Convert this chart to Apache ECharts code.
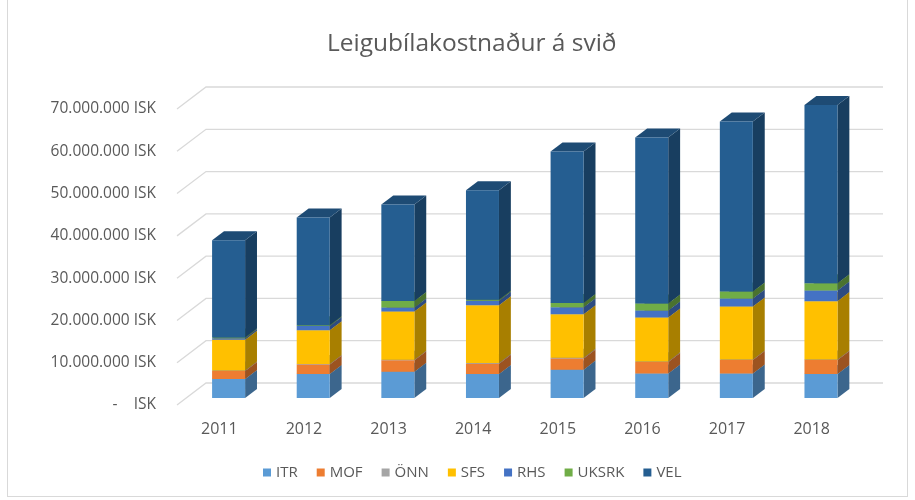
<!DOCTYPE html>
<html>
<head>
<meta charset="utf-8">
<script src="https://cdn.jsdelivr.net/npm/echarts@6/dist/echarts.min.js"></script>
<style>
  html, body { margin: 0; padding: 0; background: #fff; }
  #chart { position: absolute; left: 7px; top: 0; width: 901px; height: 497px; border: 1px solid #d9d9d9; border-top: none; box-sizing: border-box; }
</style>
</head>
<body>
<div id="chart"></div>
<script>
// ártal
const years = ['2011', '2012', '2013', '2014', '2015', '2016', '2017', '2018']
// kostnaður eftir sviðum (ISK)
const itr   = [4500000, 5650000, 6200000, 5650000, 6700000, 5800000, 5800000, 5650000]
const mof   = [1900000, 2250000, 2700000, 2450000, 2650000, 2700000, 3150000, 3300000]
const onn   = [100000, 150000, 150000, 150000, 150000, 150000, 150000, 150000]
const sfs   = [7250000, 7950000, 11400000, 13650000, 10300000, 10350000, 12500000, 13800000]
const rhs   = [400000, 1000000, 950000, 1100000, 1650000, 1700000, 1900000, 2500000]
const uksrk = [150000, 200000, 1550000, 200000, 1000000, 1650000, 1700000, 1700000]
const vel   = [23000000, 25450000, 22800000, 25900000, 35850000, 39250000, 40200000, 42200000]
const yTicks = [0, 10000000, 20000000, 30000000, 40000000, 50000000, 60000000, 70000000]

const seriesDefs = [
  { name: 'ITR', data: itr, color: '#5B9BD5' },
  { name: 'MOF', data: mof, color: '#ED7D31' },
  { name: 'ÖNN', data: onn, color: '#A5A5A5' },
  { name: 'SFS', data: sfs, color: '#FFC000' },
  { name: 'RHS', data: rhs, color: '#4472C4' },
  { name: 'UKSRK', data: uksrk, color: '#70AD47' },
  { name: 'VEL', data: vel, color: '#255E91' }
]

// 3D dýpt
const DX = 29, DY = -22
const F1 = 0.32, F2 = 0.73

const shade = (hex, f) => {
  const n = parseInt(hex.slice(1), 16)
  const r = Math.round(((n >> 16) & 255) * f)
  const g = Math.round(((n >> 8) & 255) * f)
  const b = Math.round((n & 255) * f)
  return 'rgb(' + r + ',' + g + ',' + b + ')'
}

const fmt = v => v === 0 ? '-    ISK' : String(v).replace(/\B(?=(\d{3})+(?!\d))/g, '.') + ' ISK'

const chart = echarts.init(document.getElementById('chart'))

const wallSeries = {
  type: 'custom',
  name: 'wall',
  silent: true,
  z: 1,
  data: yTicks.map(v => [0, v]),
  renderItem: (params, api) => {
    const y = api.coord([0, api.value(1)])[1]
    const x0 = params.coordSys.x
    const xr = x0 + params.coordSys.width
    return {
      type: 'polyline',
      shape: { points: [[x0, y], [x0 + DX, y + DY], [xr + DX, y + DY]] },
      style: { stroke: '#d9d9d9', lineWidth: 1.3, fill: null }
    }
  }
}

const cum = years.map(() => 0)
const barSeries = seriesDefs.map((s, k) => {
  const data = s.data.map((v, i) => {
    const lo = cum[i]
    cum[i] += v
    return [i, lo, cum[i]]
  })
  return {
    type: 'custom',
    name: s.name,
    z: 2 + k,
    itemStyle: { color: s.color },
    data: data,
    renderItem: (params, api) => {
      const c = api.value(0)
      const p0 = api.coord([c, api.value(1)])
      const p1 = api.coord([c, api.value(2)])
      const bw = api.size([1, 0])[0] * 0.39
      const x1 = p0[0] - bw / 2 + F1 * DX
      const x2 = x1 + bw
      const yb = p0[1] + F1 * DY
      const yt = p1[1] + F1 * DY
      const ddx = (F2 - F1) * DX
      const ddy = (F2 - F1) * DY
      return {
        type: 'group',
        children: [
          {
            type: 'polygon',
            shape: { points: [[x2, yb], [x2 + ddx, yb + ddy], [x2 + ddx, yt + ddy], [x2, yt]] },
            style: { fill: shade(s.color, 0.66) }
          },
          {
            type: 'polygon',
            shape: { points: [[x1, yt], [x2, yt], [x2 + ddx, yt + ddy], [x1 + ddx, yt + ddy]] },
            style: { fill: shade(s.color, 0.8) }
          },
          {
            type: 'rect',
            shape: { x: x1, y: yt, width: bw, height: yb - yt },
            style: { fill: s.color }
          }
        ]
      }
    }
  }
})

chart.setOption({
  animation: false,
  title: {
    text: 'Leigubílakostnaður á svið',
    left: 314,
    top: 27,
    textStyle: { fontFamily: 'Open Sans', fontSize: 24.5, fontWeight: 'normal', color: '#595959' }
  },
  legend: {
    bottom: 11,
    left: 250,
    icon: 'rect',
    itemWidth: 8,
    itemHeight: 8,
    itemGap: 19,
    data: seriesDefs.map(s => s.name),
    textStyle: { fontFamily: 'Open Sans', fontSize: 15, color: '#595959' }
  },
  grid: { left: 169, right: 53, top: 109, bottom: 91 },
  xAxis: {
    type: 'category',
    data: years,
    axisLine: { show: false },
    axisTick: { show: false },
    axisLabel: { margin: 16, fontFamily: 'Open Sans', fontSize: 16, color: '#595959' }
  },
  yAxis: {
    type: 'value',
    min: 0,
    max: 70000000,
    interval: 10000000,
    splitLine: { show: false },
    axisLine: { show: false },
    axisTick: { show: false },
    axisLabel: { margin: 21, formatter: fmt, fontFamily: 'Open Sans', fontSize: 15.5, color: '#595959', padding: [5, 0, 0, 0] }
  },
  series: [wallSeries].concat(barSeries)
})
</script>
</body>
</html>
